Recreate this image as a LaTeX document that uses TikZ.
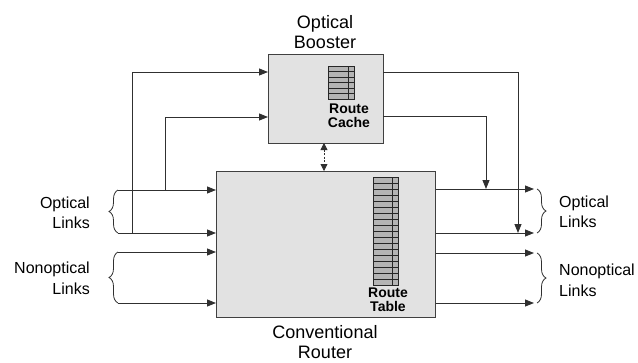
\documentclass[tikz,border=0pt]{standalone}
\usepackage{fontspec}
\setmainfont{Liberation Sans}
\usetikzlibrary{arrows.meta,decorations.pathreplacing}
\definecolor{ln}{HTML}{303030}
\definecolor{boxfill}{HTML}{E2E2E2}
\definecolor{gridfill}{HTML}{B4B4B4}
\tikzset{
  conn/.style={draw=ln, line width=0.9pt, -{Triangle[length=9pt,width=7pt]}},
  plain/.style={draw=ln, line width=0.9pt},
  unit/.style={draw=black!75, line width=1pt, fill=boxfill},
  tbl/.style={draw=black!85, line width=0.7pt, fill=gridfill},
  title/.style={font=\fontsize{18}{20}\selectfont, anchor=base, inner sep=0pt},
  side/.style={font=\fontsize{16}{20}\selectfont, inner sep=0pt},
  tlabel/.style={font=\bfseries\fontsize{14}{14}\selectfont, anchor=base, inner sep=0pt},
  brc/.style={draw=ln, line width=0.8pt, decorate, decoration={brace, amplitude=9pt}},
}
\begin{document}
\begin{tikzpicture}[x=1pt, y=-1pt]
\useasboundingbox (0,0) rectangle (638,362);
% boxes
\node[unit, minimum width=115pt, minimum height=89pt, inner sep=0pt, anchor=north west] (booster) at (268,54) {};
\node[unit, minimum width=219pt, minimum height=146pt, inner sep=0pt, anchor=north west] (router) at (216,171) {};
% route cache grid
\draw[tbl] (328,66) rectangle (354,99);
\foreach \i in {1,...,5} \draw[black!85, line width=0.7pt] (328,{66+\i*5.5}) -- (354,{66+\i*5.5});
\draw[black!85, line width=0.7pt] (348,66) -- (348,99);
% route table grid
\draw[tbl] (373,177) rectangle (398,285);
\foreach \i in {1,...,17} \draw[black!85, line width=0.7pt] (373,{177+\i*6}) -- (398,{177+\i*6});
\draw[black!85, line width=0.7pt] (392,177) -- (392,285);
% texts
\node[title] (tb1) at (325,28) {Optical};
\node[title] (tb2) at (325,48) {Booster};
\node[title] (tr1) at (325,338) {Conventional};
\node[title] (tr2) at (325,358) {Router};
\node[tlabel] (rc1) at (349,113) {Route};
\node[tlabel] (rc2) at (349,127) {Cache};
\node[tlabel] (rt1) at (388,297) {Route};
\node[tlabel] (rt2) at (388,311) {Table};
\node[side, anchor=base east] (lo1) at (90,208) {Optical};
\node[side, anchor=base east] (lo2) at (90,228) {Links};
\node[side, anchor=base east] (ln1) at (90,273) {Nonoptical};
\node[side, anchor=base east] (ln2) at (90,294) {Links};
\node[side, anchor=base west] (ro1) at (559,207) {Optical};
\node[side, anchor=base west] (ro2) at (559,227) {Links};
\node[side, anchor=base west] (rn1) at (559,275) {Nonoptical};
\node[side, anchor=base west] (rn2) at (559,296) {Links};
% coordinates
\coordinate (l1) at (118,190);
\coordinate (l2) at (118,233);
\coordinate (l3) at (118,252);
\coordinate (l4) at (118,303);
\coordinate (r1) at (534,189);
\coordinate (r2) at (534,233);
\coordinate (r3) at (534,253);
\coordinate (r4) at (534,303);
% left inputs
\draw[conn] (l1) -- (l1 -| router.west);
\draw[conn] (l2) -- (l2 -| router.west);
\draw[conn] (l3) -- (l3 -| router.west);
\draw[conn] (l4) -- (l4 -| router.west);
\coordinate (ja) at (132,233);
\coordinate (jb) at (165,190);
\coordinate (ba) at (268,72);
\coordinate (bb) at (268,117);
\draw[conn] (ja) |- (ba);
\draw[conn] (jb) |- (bb);
% right outputs
\draw[conn] (r1 -| router.east) -- (r1);
\draw[conn] (r2 -| router.east) -- (r2);
\draw[conn] (r3 -| router.east) -- (r3);
\draw[conn] (r4 -| router.east) -- (r4);
\coordinate (oa) at (383,72);
\coordinate (ob) at (383,116);
\draw[conn] (oa) -| (518,233);
\draw[conn] (ob) -| (486,189);
% dashed link
\draw[draw=ln, line width=0.8pt, dash pattern=on 2pt off 1.5pt, {Triangle[length=7pt,width=7pt]}-{Triangle[length=7pt,width=7pt]}] (324,143) -- (324,171);
% braces
\draw[brc] (l2) -- (l1);
\draw[brc] (l4) -- (l3);
\draw[brc] (537,189) -- (537,233);
\draw[brc] (537,253) -- (537,303);
\end{tikzpicture}
\end{document}
